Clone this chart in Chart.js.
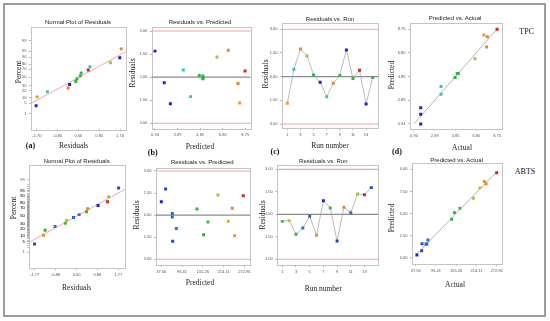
<!DOCTYPE html>
<html><head><meta charset="utf-8">
<script src="https://cdn.jsdelivr.net/npm/chart.js@4.4.1/dist/chart.umd.min.js"></script>
<style>
html,body{margin:0;padding:0;background:#fff;}
#wrap{position:relative;width:550px;height:321px;overflow:hidden;background:#fff;}
#frame{position:absolute;left:3px;top:3px;width:543px;height:314px;box-sizing:border-box;border:2px solid #9d9d9d;}
canvas{position:absolute;}
.t{position:absolute;transform:translate(-50%,-50%);white-space:nowrap;line-height:1;}
.ttl{font-family:"Liberation Sans",Arial,sans-serif;font-size:6px;color:#222;}
.ax{font-family:"Liberation Serif","Times New Roman",serif;font-size:7.5px;color:#222;}
.rot{transform:translate(-50%,-50%) rotate(-90deg);}
.lbl{font-family:"Liberation Serif","Times New Roman",serif;font-size:8px;font-weight:bold;color:#111;}
.resp{font-family:"Liberation Serif","Times New Roman",serif;font-size:8px;color:#111;}
</style>
</head><body>
<div id="wrap">
<div id="frame"></div>
<canvas id="c1"></canvas><canvas id="c2"></canvas><canvas id="c3"></canvas><canvas id="c4"></canvas>
<canvas id="c5"></canvas><canvas id="c6"></canvas><canvas id="c7"></canvas><canvas id="c8"></canvas>

<div class="t ttl" style="left:78px;top:21.7px">Normal Plot of Residuals</div>
<div class="t ttl" style="left:200px;top:21.7px">Residuals vs. Predicted</div>
<div class="t ttl" style="left:330px;top:19.3px">Residuals vs. Run</div>
<div class="t ttl" style="left:455px;top:18.3px">Predicted vs. Actual</div>
<div class="t ax rot" style="left:19px;top:72px">Percent</div>
<div class="t ax" style="left:73.7px;top:146px">Residuals</div>
<div class="t lbl" style="left:30.5px;top:146px">(a)</div>
<div class="t ax rot" style="left:133px;top:73px">Residuals</div>
<div class="t ax" style="left:200px;top:146.7px">Predicted</div>
<div class="t lbl" style="left:152.7px;top:152.7px">(b)</div>
<div class="t ax rot" style="left:266px;top:74px">Residuals</div>
<div class="t ax" style="left:330px;top:145.7px">Run number</div>
<div class="t lbl" style="left:275px;top:152.3px">(c)</div>
<div class="t ax rot" style="left:392px;top:75px">Predicted</div>
<div class="t ax" style="left:462px;top:148.3px">Actual</div>
<div class="t lbl" style="left:397px;top:152.3px">(d)</div>
<div class="t resp" style="left:526.7px;top:31.7px">TPC</div>

<div class="t ttl" style="left:76.7px;top:161px">Normal Plot of Residuals</div>
<div class="t ttl" style="left:202.3px;top:161.7px">Residuals vs. Predicted</div>
<div class="t ttl" style="left:323.3px;top:161px">Residuals vs. Run</div>
<div class="t ttl" style="left:456.7px;top:160px">Predicted vs. Actual</div>
<div class="t ax rot" style="left:13.7px;top:208.3px">Percent</div>
<div class="t ax" style="left:76.7px;top:288.3px">Residuals</div>
<div class="t ax rot" style="left:136.7px;top:215px">Residuals</div>
<div class="t ax" style="left:200px;top:283.3px">Predicted</div>
<div class="t ax rot" style="left:262.7px;top:215px">Residuals</div>
<div class="t ax" style="left:323.3px;top:289px">Run number</div>
<div class="t ax rot" style="left:392px;top:218px">Predicted</div>
<div class="t ax" style="left:455px;top:285px">Actual</div>
<div class="t resp" style="left:525px;top:172.3px">ABTS</div>
</div>
<script>
// ---------------- DATA ----------------
const RUNS = [1,2,3,4,5,6,7,8,9,10,11,12,13,14];

const TPC_ACTUAL    = [7.52,3.48,7.77,6.68,4.80,1.57,3.48,7.84,5.10,1.57,5.05,8.75,1.57,5.00];
const TPC_PREDICTED = [8.26,3.39,7.28,6.30,4.77,1.74,4.02,8.12,5.09,0.94,5.09,8.73,2.27,5.09];
const TPC_RESIDUALS = [-1.69,0.47,1.75,1.31,0.11,-0.36,-1.27,-0.42,0.08,1.69,-0.11,0.40,-1.73,-0.06];

const ABTS_ACTUAL    = [166,224,150,73,67.5,237,41,142,56,242,70,205,272.96,55];
const ABTS_PREDICTED = [169.8,227.5,157.5,80.1,68.8,245.4,37.56,138.6,69.7,238.8,68.8,198.2,270.0,49.8];
const ABTS_RESIDUALS = [-0.47,-0.42,-1.33,-0.91,-0.13,-1.40,0.91,0.42,-1.78,0.47,0.11,1.36,1.31,1.78];

// normal probability (%) of ranked residuals
const NORMAL_PCT = [3.57,10.71,17.86,25,32.14,39.29,46.43,53.57,60.71,67.86,75,82.14,89.29,96.43];
// reference line of the normal plots (residual, percent)
const TPC_NORMAL_LINE_RES = [-1.93,1.94];
const TPC_NORMAL_LINE_PCT = [4.9,94.8];
const ABTS_NORMAL_LINE_RES = [-2.01,2.05];
const ABTS_NORMAL_LINE_PCT = [4.5,95.7];

// tick labels
const PERCENT_TICKS = ["1","5","10","20","30","50","70","80","90","95","99"];
const RESIDUAL_TICKS = ["-3.00","-1.50","0.00","1.50","3.00"];
const RUN_TICKS = ["1","3","5","7","9","11","13"];
const TPC_NORMAL_X_TICKS = ["-1.70","-0.85","0.00","0.85","1.70"];
const ABTS_NORMAL_X_TICKS = ["-1.77","-0.88","0.00","0.88","1.77"];
const TPC_PRED_TICKS = ["0.94","2.89","4.85","6.80","8.75"];
const TPC_ACTUAL_TICKS = ["0.94","2.89","4.85","6.80","8.75"];
const ABTS_PRED_TICKS = ["37.56","96.41","155.26","214.11","272.96"];
const ABTS_ACTUAL_TICKS = ["37.56","96.41","155.26","214.11","272.96"];
const ABTS_PRED_AXIS_TICKS = ["30.00","92.50","155.00","217.50","280.00"];
const RESIDUAL_LIMITS = [-3, 3];

// ---------------- HELPERS ----------------
function probit(p){
 const a=[-3.969683028665376e+01,2.209460984245205e+02,-2.759285104469687e+02,1.383577518672690e+02,-3.066479806614716e+01,2.506628277459239e+00];
 const b=[-5.447609879822406e+01,1.615858368580409e+02,-1.556989798598866e+02,6.680131188771972e+01,-1.328068155288572e+01];
 const c=[-7.784894002430293e-03,-3.223964580411365e-01,-2.400758277161838e+00,-2.549732539343734e+00,4.374664141464968e+00,2.938163982698783e+00];
 const d=[7.784695709041462e-03,3.224671290700398e-01,2.445134137142996e+00,3.754408661907416e+00];
 const pl=0.02425, ph=1-pl; let q,r;
 if(p<pl){q=Math.sqrt(-2*Math.log(p));return (((((c[0]*q+c[1])*q+c[2])*q+c[3])*q+c[4])*q+c[5])/((((d[0]*q+d[1])*q+d[2])*q+d[3])*q+1);}
 if(p<=ph){q=p-0.5;r=q*q;return (((((a[0]*r+a[1])*r+a[2])*r+a[3])*r+a[4])*r+a[5])*q/(((((b[0]*r+b[1])*r+b[2])*r+b[3])*r+b[4])*r+1);}
 q=Math.sqrt(-2*Math.log(1-p));return -(((((c[0]*q+c[1])*q+c[2])*q+c[3])*q+c[4])*q+c[5])/((((d[0]*q+d[1])*q+d[2])*q+d[3])*q+1);
}
const PALETTE=[[0,'#1e1ed6'],[0.27,'#33c6c6'],[0.47,'#27b43b'],[0.71,'#98cc30'],[0.80,'#e2b12e'],[0.87,'#e8842a'],[1,'#d82222']];
function hex2rgb(h){return [1,3,5].map(i=>parseInt(h.substr(i,2),16));}
function colorFor(v,lo,hi){
 let t=(v-lo)/(hi-lo); t=Math.max(0,Math.min(1,t));
 for(let i=1;i<PALETTE.length;i++){ if(t<=PALETTE[i][0]){ const [t0,c0]=PALETTE[i-1],[t1,c1]=PALETTE[i]; const f=(t-t0)/(t1-t0); const A=hex2rgb(c0),B=hex2rgb(c1); return 'rgb('+A.map((x,j)=>Math.round(x+(B[j]-x)*f)).join(',')+')'; } }
 return PALETTE[PALETTE.length-1][1];
}
const YW=12, XH=11;
function place(canvas, box){
 const L=Math.floor(box.l-YW-2), T=Math.floor(box.t-3);
 const W=Math.ceil(box.r+4)-L, H=Math.ceil(box.b+XH+2)-T;
 canvas.style.left=L+'px'; canvas.style.top=T+'px';
 canvas.width=W; canvas.height=H; canvas.style.width=W+'px'; canvas.style.height=H+'px';
 return {left:box.l-YW-L, top:box.t-T, right:L+W-box.r, bottom:T+H-box.b-XH};
}
function axis(pos,min,max,labels,values,minor){
 const vals = values || labels.map(parseFloat);
 let tickVals = vals.map(v=>({value:v, major:true}));
 if(minor){ tickVals = tickVals.concat(minor.map(v=>({value:v, major:false}))); }
 const lblOf = v => { const k = vals.findIndex(u=>Math.abs(u-v)<1e-9); return k>=0 ? labels[k] : ''; };
 return { type:'linear', position:pos, min, max, bounds:'data',
  afterBuildTicks: s => { s.ticks = tickVals.map(t=>({value:t.value})); },
  afterFit: s => { if(pos==='left') s.width=YW; else s.height=XH; s.paddingLeft=0; s.paddingRight=0; s.paddingTop=0; s.paddingBottom=0; },
  ticks:{ autoSkip:false, maxRotation:0, minRotation:0, font:{size:4, family:'"Liberation Sans", Arial, sans-serif'}, color:'#555', padding:2.5,
          callback:(v)=>lblOf(v) },
  grid:{ drawOnChartArea:false, drawTicks:true, tickLength:2, color:'#8a8a8a', lineWidth:0.6 },
  border:{ display:false }
 };
}
const decor = { id:'decor',
 beforeDatasetsDraw(chart,args,o){
  const {ctx, chartArea:a, scales:{x,y}} = chart;
  ctx.save();
  ctx.strokeStyle='#c4c4c4'; ctx.lineWidth=1;
  ctx.strokeRect(Math.round(a.left)+0.5, Math.round(a.top)+0.5, Math.round(a.right-a.left), Math.round(a.bottom-a.top));
  ctx.beginPath(); ctx.rect(a.left,a.top,a.right-a.left,a.bottom-a.top); ctx.clip();
  (o.hlines||[]).forEach(h=>{ const py=y.getPixelForValue(h.v); ctx.strokeStyle=h.c; ctx.lineWidth=h.w; ctx.beginPath(); ctx.moveTo(a.left,py); ctx.lineTo(a.right,py); ctx.stroke(); });
  if(o.diag){ const [v0,v1]=o.diag; ctx.strokeStyle='#a2a2a2'; ctx.lineWidth=0.8; ctx.beginPath(); ctx.moveTo(x.getPixelForValue(v0),y.getPixelForValue(v0)); ctx.lineTo(x.getPixelForValue(v1),y.getPixelForValue(v1)); ctx.stroke(); }
  ctx.restore();
 }
};
Chart.register(decor);
function baseOpts(padding, xs, ys, dec){
 return { responsive:false, animation:false, events:[], devicePixelRatio:1,
  layout:{padding}, scales:{x:xs, y:ys},
  plugins:{legend:{display:false}, tooltip:{enabled:false}, title:{display:false}, decor:dec||{}} };
}
const PT = {pointStyle:'rect', pointRadius:2.1, pointBorderWidth:0, pointHoverRadius:2.1};
const resLines = [{v:RESIDUAL_LIMITS[0],c:'#f4a3a3',w:1.1},{v:RESIDUAL_LIMITS[1],c:'#f4a3a3',w:1.1},{v:0,c:'#8d8d8d',w:1.4}];

function normalChart(id, box, xr, yr, res, act, xt, lineRes, linePct, minorTicks){
 const pad = place(document.getElementById(id), box);
 const lo=Math.min(...act), hi=Math.max(...act);
 const order = res.map((r,i)=>i).sort((i,j)=>res[i]-res[j]);
 const pts = order.map((i,k)=>({x:res[i], y:probit(NORMAL_PCT[k]/100)}));
 const cols = order.map(i=>colorFor(act[i],lo,hi));
 const line = lineRes.map((r,k)=>({x:r, y:probit(linePct[k]/100)}));
 const pctVals = PERCENT_TICKS.map(p=>probit(parseFloat(p)/100));
 const minor = minorTicks ? minorTicks.map(p=>probit(p/100)) : null;
 new Chart(document.getElementById(id), { type:'scatter',
  data:{datasets:[
   Object.assign({data:pts, pointBackgroundColor:cols, order:0}, PT),
   {data:line, showLine:true, borderColor:'#f6a6a6', borderWidth:1, pointRadius:0, order:1}
  ]},
  options: baseOpts(pad, axis('bottom',xr[0],xr[1],xt), axis('left',yr[0],yr[1],PERCENT_TICKS,pctVals,minor))
 });
}
function residPredChart(id, box, xr, yr, pred, res, act, xt){
 const pad = place(document.getElementById(id), box);
 const lo=Math.min(...act), hi=Math.max(...act);
 new Chart(document.getElementById(id), { type:'scatter',
  data:{datasets:[ Object.assign({data:pred.map((p,i)=>({x:p,y:res[i]})), pointBackgroundColor:act.map(a=>colorFor(a,lo,hi))}, PT) ]},
  options: baseOpts(pad, axis('bottom',xr[0],xr[1],xt), axis('left',yr[0],yr[1],RESIDUAL_TICKS), {hlines:resLines})
 });
}
function runChart(id, box, xr, yr, res, act){
 const pad = place(document.getElementById(id), box);
 const lo=Math.min(...act), hi=Math.max(...act);
 new Chart(document.getElementById(id), { type:'scatter',
  data:{datasets:[ Object.assign({data:RUNS.map((r,i)=>({x:r,y:res[i]})), showLine:true, borderColor:'#ababab', borderWidth:0.8, pointBackgroundColor:act.map(a=>colorFor(a,lo,hi))}, PT) ]},
  options: baseOpts(pad, axis('bottom',xr[0],xr[1],RUN_TICKS), axis('left',yr[0],yr[1],RESIDUAL_TICKS), {hlines:resLines})
 });
}
function predActChart(id, box, xr, yr, act, pred, xt, yt){
 const pad = place(document.getElementById(id), box);
 const lo=Math.min(...act), hi=Math.max(...act);
 const xv = xt.map(parseFloat);
 new Chart(document.getElementById(id), { type:'scatter',
  data:{datasets:[ Object.assign({data:act.map((a,i)=>({x:a,y:pred[i]})), pointBackgroundColor:act.map(a=>colorFor(a,lo,hi))}, PT) ]},
  options: baseOpts(pad, axis('bottom',xr[0],xr[1],xt), axis('left',yr[0],yr[1],yt), {diag:[xv[0], xv[xv.length-1]]})
 });
}

// ---------------- TOP ROW: TPC ----------------
normalChart('c1', {l:31,t:26.7,r:126,b:129.3}, [-1.94,1.945], [-3.30,3.21], TPC_RESIDUALS, TPC_ACTUAL, TPC_NORMAL_X_TICKS, TPC_NORMAL_LINE_RES, TPC_NORMAL_LINE_PCT, null);
residPredChart('c2', {l:151.7,t:26.7,r:250.7,b:128.3}, [0.655,9.22], [-3.33,3.28], TPC_PREDICTED, TPC_RESIDUALS, TPC_ACTUAL, TPC_PRED_TICKS);
runChart('c3', {l:282,t:23.3,r:378.3,b:128.3}, [0.19,14.86], [-3.27,3.38], TPC_RESIDUALS, TPC_ACTUAL);
predActChart('c4', {l:410,t:22.7,r:501.7,b:128.7}, [0.564,9.19], [0.553,9.27], TPC_ACTUAL, TPC_PREDICTED, TPC_ACTUAL_TICKS, TPC_PRED_TICKS);

// ---------------- BOTTOM ROW: ABTS ----------------
const MINOR_PCT = []; for(let p=2;p<=98;p++) MINOR_PCT.push(p);
normalChart('c5', {l:29.3,t:165,r:125,b:268.3}, [-2.0,2.05], [-3.37,3.29], ABTS_RESIDUALS, ABTS_ACTUAL, ABTS_NORMAL_X_TICKS, ABTS_NORMAL_LINE_RES, ABTS_NORMAL_LINE_PCT, MINOR_PCT);
residPredChart('c6', {l:156,t:168.3,r:250,b:265}, [22.5,289.1], [-3.39,3.18], ABTS_PREDICTED, ABTS_RESIDUALS, ABTS_ACTUAL, ABTS_PRED_TICKS);
runChart('c7', {l:277.3,t:165,r:378.3,b:265}, [0.27,15.02], [-3.38,3.29], ABTS_RESIDUALS, ABTS_ACTUAL);
predActChart('c8', {l:412,t:163,r:501.7,b:264}, [26.8,287.5], [12.2,297.8], ABTS_ACTUAL, ABTS_PREDICTED, ABTS_ACTUAL_TICKS, ABTS_PRED_AXIS_TICKS);
</script>
</body></html>
